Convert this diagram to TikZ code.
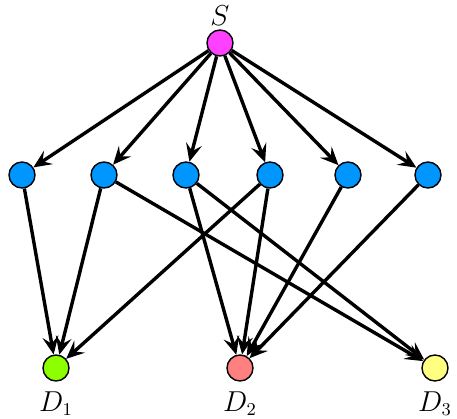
\documentclass[tikz,border=0pt]{standalone}
\usetikzlibrary{arrows.meta}

\definecolor{srcpink}{RGB}{255,64,255}
\definecolor{relblue}{RGB}{0,150,255}
\definecolor{dgreen}{RGB}{140,255,0}
\definecolor{dred}{RGB}{255,128,128}
\definecolor{dyellow}{RGB}{255,255,128}

\tikzset{
  vtx/.style={circle, draw=black, line width=0.7pt, minimum size=13pt, inner sep=0pt},
  flow/.style={-{Stealth[length=9pt, width=8pt, inset=3.5pt]}, line width=1.7pt}
}

\begin{document}
\begin{tikzpicture}[x=0.5pt, y=-0.5pt, font=\fontsize{13.5}{16}\selectfont]
  \useasboundingbox (0,0) rectangle (457,419);

  % Fonte
  \node[vtx, fill=srcpink, label={[label distance=-1.5pt]above:$S$}] (src) at (220,43) {};

  % Camada do meio
  \foreach \x [count=\i] in {22,104,186,270,348,428} {
    \node[vtx, fill=relblue] (m\i) at (\x,175) {};
  }

  % Destinos
  \foreach \x/\c [count=\i] in {56/dgreen,240/dred,435/dyellow} {
    \node[vtx, fill=\c, label={[label distance=1.5pt]below:$D_\i$}] (d\i) at (\x,368) {};
  }

  % Arestas
  \foreach \i in {1,...,6} {
    \draw[flow] (src) -- (m\i);
  }
  \foreach \a/\b in {1/1,2/1,2/3,3/2,3/3,4/1,4/2,5/2,6/2} {
    \draw[flow] (m\a) -- (d\b);
  }
\end{tikzpicture}
\end{document}
